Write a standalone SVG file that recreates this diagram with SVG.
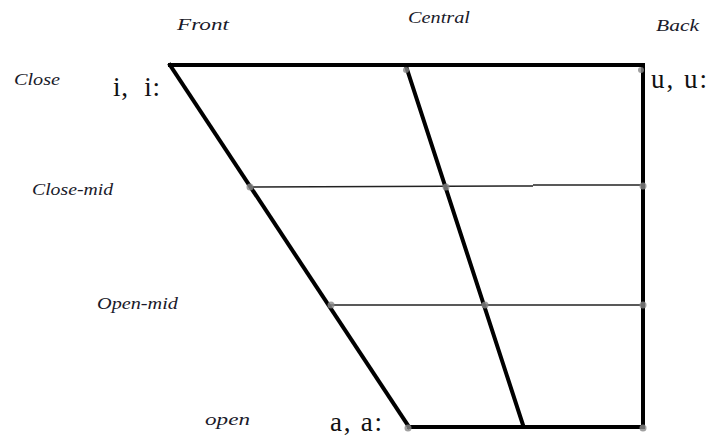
<svg xmlns="http://www.w3.org/2000/svg" width="711" height="437" viewBox="0 0 711 437">
<style>
.lab{font-family:"Times New Roman","Liberation Serif",Tinos,serif;font-style:italic;font-size:17px;fill:#1a1a2a}
.ph{font-family:"Times New Roman","Liberation Serif",Tinos,serif;font-size:27px;fill:#111}
.thick{stroke:#000;stroke-width:4;fill:none;stroke-linecap:square}
.thin{stroke:#222;stroke-width:1.5;fill:none}
.dot{fill:#888;opacity:0.8}
</style>
<rect width="711" height="437" fill="#fff"/>
<g id="connectors">
<line class="thin" x1="250" y1="187" x2="533" y2="186"/>
<line class="thin" x1="533" y1="185" x2="643" y2="185"/>
<line class="thin" x1="330" y1="305" x2="643" y2="305"/>
<line class="thick" x1="170" y1="65" x2="643" y2="65"/>
<line class="thick" x1="170" y1="65" x2="409" y2="427"/>
<line class="thick" x1="409" y1="427" x2="643" y2="427"/>
<line class="thick" x1="643" y1="65" x2="643" y2="427"/>
<line class="thick" x1="406" y1="66" x2="523" y2="425" stroke-linecap="butt"/>
</g>
<g id="dots">
<circle class="dot" cx="406" cy="70" r="3"/>
<circle class="dot" cx="641" cy="70" r="3"/>
<circle class="dot" cx="250" cy="187" r="3.5"/>
<circle class="dot" cx="446" cy="187" r="3.5"/>
<circle class="dot" cx="643" cy="186" r="3.5"/>
<circle class="dot" cx="331" cy="305" r="3.5"/>
<circle class="dot" cx="485" cy="305" r="3.5"/>
<circle class="dot" cx="643" cy="305" r="3.5"/>
<circle class="dot" cx="408" cy="428" r="3.5"/>
<circle class="dot" cx="643" cy="428" r="3.5"/>
</g>
<g id="col-labels">
<text class="lab" x="177" y="30" textLength="52" lengthAdjust="spacingAndGlyphs">Front</text>
<text class="lab" x="408" y="23" textLength="62" lengthAdjust="spacingAndGlyphs">Central</text>
<text class="lab" x="656" y="31" textLength="43" lengthAdjust="spacingAndGlyphs">Back</text>
</g>
<g id="row-labels">
<text class="lab" x="14" y="85" textLength="46" lengthAdjust="spacingAndGlyphs">Close</text>
<text class="lab" x="32" y="195" textLength="81" lengthAdjust="spacingAndGlyphs">Close-mid</text>
<text class="lab" x="97" y="309" textLength="81" lengthAdjust="spacingAndGlyphs">Open-mid</text>
<text class="lab" x="205" y="425" textLength="45" lengthAdjust="spacingAndGlyphs">open</text>
</g>
<g id="vowels">
<text class="ph" x="113" y="96" xml:space="preserve" textLength="47" lengthAdjust="spacing">i,  i:</text>
<text class="ph" x="651" y="88" textLength="56" lengthAdjust="spacing">u, u:</text>
<text class="ph" x="330" y="431" textLength="52" lengthAdjust="spacing">a, a:</text>
</g>
</svg>
